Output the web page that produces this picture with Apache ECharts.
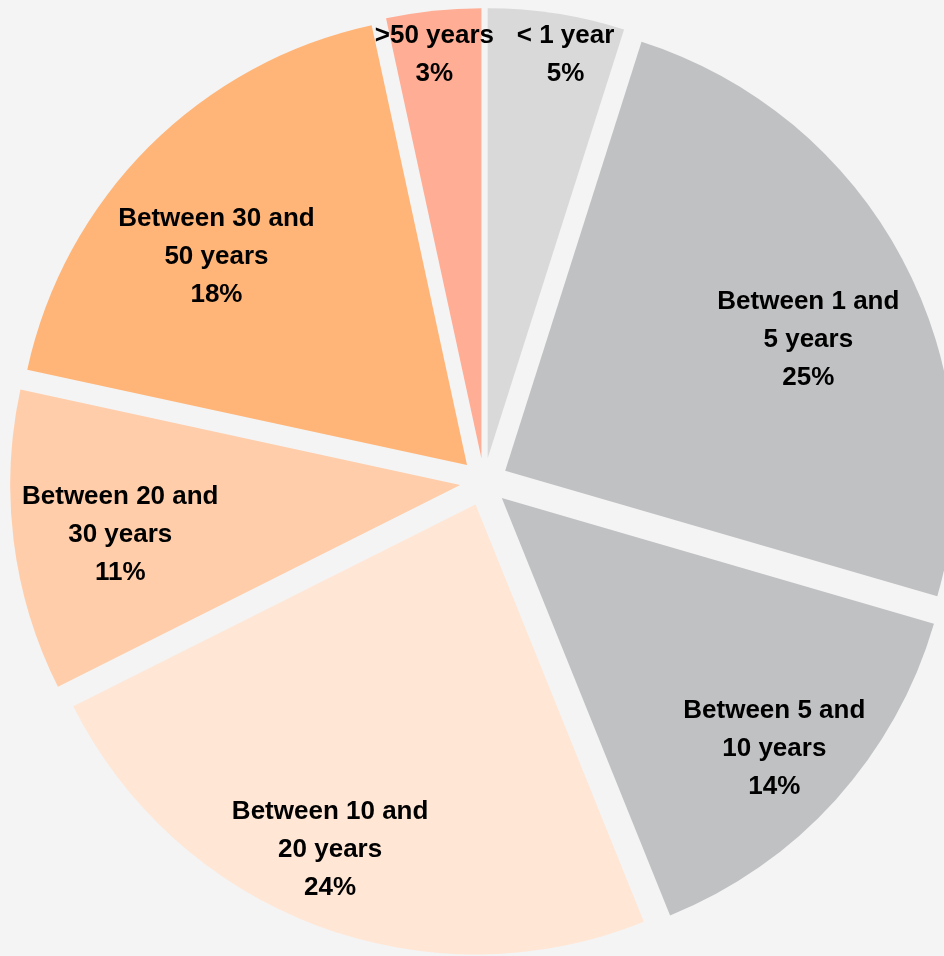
<!DOCTYPE html>
<html>
<head>
<meta charset="utf-8">
<script src="https://cdn.jsdelivr.net/npm/echarts@6/dist/echarts.min.js"></script>
<style>
  html, body { margin: 0; padding: 0; background: #f4f4f4; }
  #chart { width: 944px; height: 956px; }
</style>
</head>
<body>
<div id="chart"></div>
<script>
// categories and shares (%), clockwise from 12 o'clock
var categories = ['< 1 year', 'Between 1 and 5 years', 'Between 5 and 10 years',
  'Between 10 and 20 years', 'Between 20 and 30 years', 'Between 30 and 50 years', '>50 years'];
var shares = [4.9, 24.6, 14.4, 23.7, 10.8, 18.2, 3.4];
var colors = ['#d9d9d9', '#c0c1c3', '#c0c1c3', '#ffe6d5', '#ffcdaa', '#ffb478', '#ffad94'];

// label placement: distance from centre (share of radius) and turn off the bisector (deg)
var labelDist = [0.96, 0.78, 0.87, 0.88, 0.81, 0.77, 0.95];
var labelTurn = [2, 4.5, 0.5, 2, -1, -5, -0.5];

var R = 450, CX = 484, CY = 482, OFFSET = 24;
var total = shares.reduce(function (a, b) { return a + b; }, 0);
var mids = [];
var acc = 0;
shares.forEach(function (v) {
  mids.push((acc + v / 2) / total * 360);
  acc += v;
});

var myChart = echarts.init(document.getElementById('chart'));

var option = {
  backgroundColor: '#f4f4f4',
  animation: false,
  series: [{
    type: 'pie',
    center: [CX, CY],
    radius: [0, R],
    startAngle: 90,
    clockwise: true,
    selectedMode: 'multiple',
    selectedOffset: OFFSET,
    avoidLabelOverlap: false,
    emphasis: { disabled: true },
    itemStyle: { borderWidth: 0 },
    label: {
      show: true,
      position: 'inside',
      color: '#000',
      fontFamily: '"Liberation Sans", Arial, sans-serif',
      fontWeight: 'bold',
      fontSize: 26,
      lineHeight: 38,
      formatter: function (p) {
        return p.name.replace(' and ', ' and\n') + '\n' + Math.round(p.value) + '%';
      }
    },
    // move each label from its default spot (half radius + offset, on the bisector)
    labelLayout: function (p) {
      var i = p.dataIndex;
      var m = mids[i] * Math.PI / 180;
      var a = (mids[i] + labelTurn[i]) * Math.PI / 180;
      var d = labelDist[i] * R;
      var d0 = R / 2 + OFFSET;
      return {
        dx: d * Math.sin(a) - d0 * Math.sin(m),
        dy: -d * Math.cos(a) + d0 * Math.cos(m)
      };
    },
    data: categories.map(function (c, i) {
      return { name: c, value: shares[i], selected: true, itemStyle: { color: colors[i] } };
    })
  }]
};

myChart.setOption(option);
</script>
</body>
</html>
